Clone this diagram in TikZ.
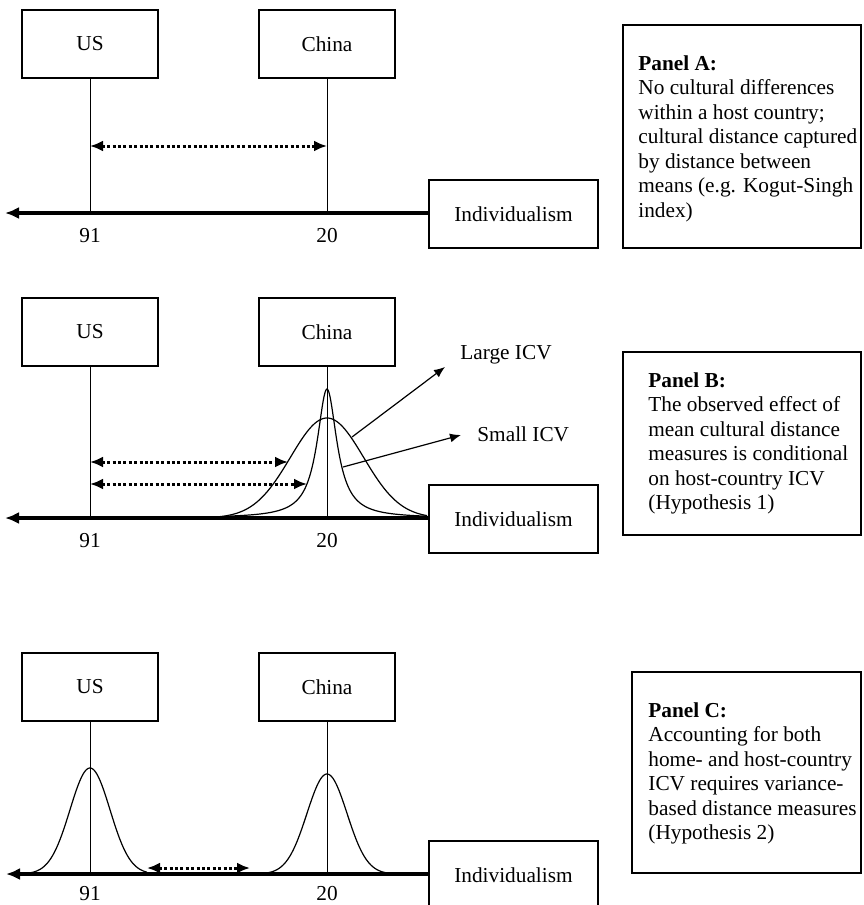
\documentclass[tikz,border=0pt]{standalone}
\usepackage{fontspec}
\setmainfont{Liberation Serif}
\usetikzlibrary{arrows.meta}

\begin{document}
\begin{tikzpicture}[x=0.5pt,y=-0.5pt,
		font=\fontsize{10.65pt}{12.25pt}\selectfont,
		country/.style={draw,line width=0.6pt,minimum width=68pt,minimum height=34pt,inner sep=0pt},
		dimbox/.style={draw,line width=0.6pt,minimum width=84.5pt,minimum height=34pt,inner sep=0pt},
		value/.style={inner sep=0pt},
		paneltext/.style={anchor=north west,inner sep=0pt,align=left},
		frame/.style={draw,line width=0.6pt},
		axis/.style={line width=1.6pt,-{Latex[length=7pt,width=6pt]}},
		mean/.style={line width=0.5pt},
		gap/.style={line width=1.5pt,dash pattern=on 1.5pt off 1.2pt,{Latex[length=6.5pt,width=5.5pt]}-{Latex[length=6.5pt,width=5.5pt]}},
		pointer/.style={line width=0.6pt,-{Latex[length=5.5pt,width=4.5pt]}},
		bell/.style={line width=0.6pt}]
		\useasboundingbox (0,0) rectangle (863,905);

		% panel A
		\node [country] (usA) at (90,44) {US};
		\node [country] (chinaA) at (327,44) {China};
		\node [dimbox] (indA) at (513.5,214) {Individualism};
		\coordinate (endA) at (5,213);
		\draw [axis] (indA.west |- endA) -- (endA);
		\draw [mean] (usA.south) -- (usA.south |- endA);
		\draw [mean] (chinaA.south) -- (chinaA.south |- endA);
		\node [value] (usvalA) at (90,236) {91};
		\node [value] (chinavalA) at (327,236) {20};
		\coordinate (gapA) at (0,146);
		\draw [gap] (usA.south |- gapA) -- (chinaA.south |- gapA);

		\draw [frame] (623,25) rectangle (861,248);
		\node [paneltext] (panelA) at (638,55) {\textbf{Panel A:}\\No cultural differences\\within a host country;\\cultural distance captured\\by distance between\\means (e.g. Kogut-Singh\\index)};

		% panel B
		\node [country] (usB) at (90,332) {US};
		\node [country] (chinaB) at (327,332) {China};
		\node [dimbox] (indB) at (513.5,519) {Individualism};
		\coordinate (endB) at (5,518);
		\draw [axis] (indB.west |- endB) -- (endB);
		\draw [mean] (usB.south) -- (usB.south |- endB);
		\draw [mean] (chinaB.south) -- (chinaB.south |- endB);
		\node [value] (usvalB) at (90,541) {91};
		\node [value] (chinavalB) at (327,541) {20};

		% large and small ICV curves
		\draw [bell] plot [domain=200:427,samples=120] (\x,{518-100*exp(-0.5*((\x-327)/36.6)^2)});
		\draw [bell] plot [domain=230:427,samples=200] (\x,{518-129/(1+((\x-327)/12)^2)});

		\coordinate (wideHit) at (288,462);
		\coordinate (narrowHit) at (307,484);
		\draw [gap] (usB.south |- wideHit) -- (wideHit);
		\draw [gap] (usB.south |- narrowHit) -- (narrowHit);

		\node [anchor=west,inner sep=0pt] (large) at (460,355) {Large ICV};
		\node [anchor=west,inner sep=0pt] (small) at (477,434) {Small ICV};
		\coordinate (largeFrom) at (352,437);
		\coordinate (largeTip) at (445,367);
		\coordinate (smallFrom) at (343,467);
		\coordinate (smallTip) at (461,435);
		\draw [pointer] (largeFrom) -- (largeTip);
		\draw [pointer] (smallFrom) -- (smallTip);

		\draw [frame] (623,352) rectangle (861,535);
		\node [paneltext] (panelB) at (648,372) {\textbf{Panel B:}\\The observed effect of\\mean cultural distance\\measures is conditional\\on host-country ICV\\(Hypothesis 1)};

		% panel C
		\node [country] (usC) at (90,687) {US};
		\node [country] (chinaC) at (327,687) {China};
		\node [dimbox] (indC) at (513.5,875) {Individualism};
		\coordinate (endC) at (6,874);
		\draw [axis] (indC.west |- endC) -- (endC);
		\draw [mean] (usC.south) -- (usC.south |- endC);
		\draw [mean] (chinaC.south) -- (chinaC.south |- endC);
		\node [value] (usvalC) at (90,894) {91};
		\node [value] (chinavalC) at (327,894) {20};

		% home and host country ICV
		\draw [bell] plot [domain=20:147,samples=120] (\x,{874-106*exp(-0.5*((\x-90)/20)^2)});
		\draw [bell] plot [domain=250:397,samples=120] (\x,{874-100*exp(-0.5*((\x-327)/20)^2)});

		\coordinate (homeTail) at (147,868);
		\coordinate (hostTail) at (250,868);
		\draw [gap] (homeTail) -- (hostTail);

		\draw [frame] (632,672) rectangle (861,873);
		\node [paneltext] (panelC) at (648,702) {\textbf{Panel C:}\\Accounting for both\\home- and host-country\\ICV requires variance-\\based distance measures\\(Hypothesis 2)};
	\end{tikzpicture}
\end{document}
